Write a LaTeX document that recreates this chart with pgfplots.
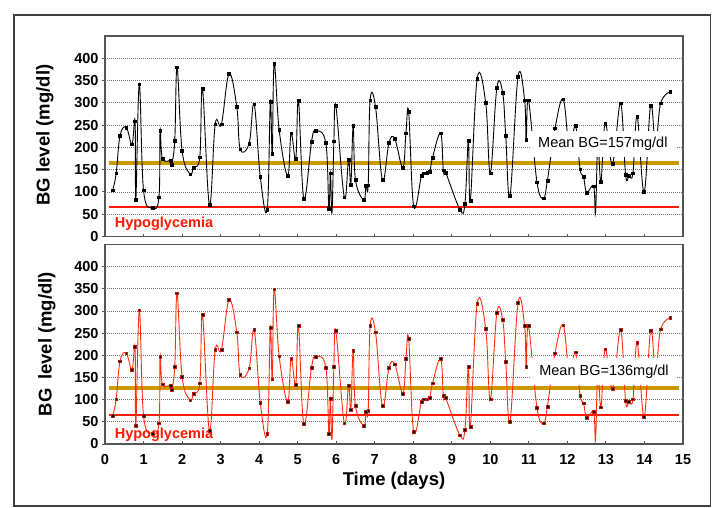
\documentclass[border=0pt]{standalone}
\usepackage{fontspec}
\setmainfont{Liberation Sans}
\usepackage{pgfplots}
\usepackage{pgfplotstable}
\pgfplotsset{compat=1.18}

\definecolor{goldline}{RGB}{204,153,0}
\definecolor{hypored}{RGB}{255,25,0}
\definecolor{curvered}{RGB}{255,45,15}
\definecolor{axisgray}{RGB}{85,85,85}

% time (days), BG top panel, BG bottom panel, marker shown
\pgfplotstableread{
t v1 v2 m
0.20 104 64 1
0.29 142 101 1
0.39 226 187 1
0.55 245 205 1
0.70 207 167 1
0.78 259 219 1
0.80 82 41 1
0.89 342 302 1
1.00 104 64 1
1.23 64 24 1
1.40 88 47 1
1.43 237 197 1
1.49 175 135 1
1.71 170 132 1
1.73 162 122 1
1.81 215 174 1
1.87 380 340 1
2.00 193 152 1
2.21 140 99 1
2.30 155 114 1
2.46 178 137 1
2.53 331 291 1
2.71 71 30 1
2.86 252 212 1
3.02 252 212 1
3.22 365 325 1
3.42 291 252 1
3.51 196 156 1
3.74 209 171 1
3.87 297 257 1
4.03 134 93 1
4.21 61 23 1
4.29 302 263 1
4.34 186 146 1
4.39 387 349 1
4.52 239 198 1
4.74 136 95 1
4.83 232 192 1
4.95 174 133 1
5.02 305 266 1
5.16 85 45 1
5.36 213 173 1
5.47 237 197 1
5.73 210 173 1
5.81 63 23 1
5.85 142 102 1
5.89 52 10 0
5.94 214 174 1
5.99 293 255 1
6.21 88 47 1
6.32 172 132 1
6.38 117 78 1
6.44 248 210 1
6.50 127 86 1
6.72 82 41 1
6.77 114 73 1
6.83 115 75 1
6.88 306 266 1
7.02 291 252 1
7.20 127 86 1
7.37 210 172 1
7.52 219 180 1
7.73 154 114 1
7.81 232 192 1
7.88 280 238 1
8.01 68 28 1
8.21 136 95 1
8.27 142 101 1
8.36 143 101 1
8.43 145 105 1
8.50 177 137 1
8.71 232 193 1
8.78 149 109 1
8.84 144 104 1
9.21 61 20 1
9.34 73 32 1
9.43 215 174 1
9.48 80 39 1
9.66 355 317 1
9.88 300 260 1
10.00 142 101 1
10.17 334 296 1
10.32 323 280 1
10.40 226 186 1
10.51 91 50 1
10.72 359 319 1
10.89 306 266 1
10.93 217 174 1
10.99 306 266 1
11.21 122 82 1
11.38 86 47 1
11.48 125 84 1
11.68 243 205 1
11.89 308 268 1
12.05 200 160 0
12.21 248 207 1
12.33 151 109 1
12.42 134 92 1
12.50 99 59 1
12.68 113 72 1
12.73 53 9 0
12.79 210 165 0
12.87 123 83 1
12.98 254 214 1
13.17 164 124 1
13.38 299 257 1
13.51 138 97 1
13.60 137 96 1
13.70 142 101 1
13.81 269 228 1
13.99 100 62 1
14.16 294 255 1
14.29 205 165 0
14.42 299 259 1
14.67 325 285 1
}\bgdata

\pgfplotsset{
  bgpanel/.style={
    scale only axis, width=578pt,
    xmin=0, xmax=15, ymin=0, ymax=450,
    xtick={0,...,15}, ytick={0,50,...,400},
    xtick pos=bottom, ytick pos=left,
    xtick align=inside, ytick align=outside,
    major tick length=3pt,
    ymajorgrids,
    grid style={black!55, line width=0.8pt, dash pattern=on 0.8pt off 1.2pt},
    axis line style={axisgray, line width=1.2pt},
    tick style={axisgray, line width=1pt},
    /pgf/number format/assume math mode=true,
    tick label style={font=\fontsize{14.5}{14.5}\selectfont\bfseries},
    xticklabel style={yshift=-7pt},
  },
}

\begin{document}
\begin{tikzpicture}
\path[use as bounding box] (0,0) rectangle (712pt,-508pt);
\draw[black!75, line width=1.3pt] (14pt,-15pt) rectangle (710.5pt,-506pt);

% top panel
\begin{axis}[bgpanel, height=200.5pt, at={(105pt,-236.5pt)}, anchor=south west,
  xticklabels={}]
\addplot[goldline, line width=4.5pt] coordinates {(0.1,165) (14.9,165)};
\addplot[hypored, line width=2pt] coordinates {(0.1,66) (14.9,66)};
\addplot[black, line width=0.9pt, smooth, tension=0.65] table[x=t,y=v1]{\bgdata};
\addplot[only marks, mark=square*, mark size=1.4pt, black,
  restrict expr to domain={\thisrow{m}}{0.5:1.5}] table[x=t,y=v1]{\bgdata};
\node[fill=white, minimum width=146pt, minimum height=26pt, inner sep=0pt,
  font=\fontsize{14.5}{14.5}\selectfont] at (axis cs:12.92,207.6) {Mean BG=157mg/dl};
\node[anchor=west, inner sep=0pt, text=hypored, font=\fontsize{14.5}{14.5}\selectfont\bfseries]
  at (axis cs:0.25,28) {Hypoglycemia};
\end{axis}

% bottom panel
\begin{axis}[bgpanel, height=199.5pt, at={(105pt,-444pt)}, anchor=south west]
\addplot[goldline, line width=4.5pt] coordinates {(0.1,126) (14.9,126)};
\addplot[hypored, line width=2pt] coordinates {(0.1,65.5) (14.9,65.5)};
\addplot[curvered, line width=0.9pt, smooth, tension=0.65] table[x=t,y=v2]{\bgdata};
\addplot[only marks, mark=square*, mark size=1.4pt, black, mark options={draw=curvered!70!black},
  restrict expr to domain={\thisrow{m}}{0.5:1.5}] table[x=t,y=v2]{\bgdata};
\node[fill=white, minimum width=146pt, minimum height=27pt, inner sep=0pt,
  font=\fontsize{14.5}{14.5}\selectfont] at (axis cs:12.95,163.5) {Mean BG=136mg/dl};
\node[anchor=west, inner sep=0pt, text=hypored, font=\fontsize{14.5}{14.5}\selectfont\bfseries]
  at (axis cs:0.25,21) {Hypoglycemia};
\end{axis}

\node[rotate=90, font=\fontsize{18.5}{18.5}\selectfont\bfseries] at (45pt,-135pt) {BG level (mg/dl)};
\node[rotate=90, font=\fontsize{18.5}{18.5}\selectfont\bfseries] at (47pt,-344pt) {BG\hspace{0.45em}level (mg/dl)};
\node[font=\fontsize{18.5}{18.5}\selectfont\bfseries] at (394pt,-481pt) {Time (days)};
\end{tikzpicture}
\end{document}
